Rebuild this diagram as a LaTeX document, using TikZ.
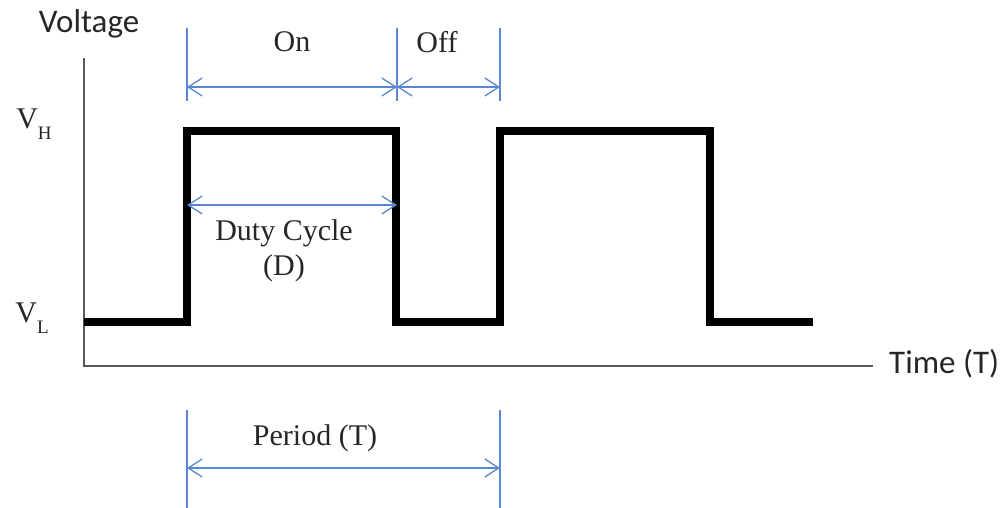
\documentclass[tikz,border=0pt]{standalone}
\usepackage{fontspec}
\setmainfont{Liberation Serif}
\newfontfamily\labelfont{Carlito}
\usetikzlibrary{arrows.meta,positioning,calc}
\definecolor{dimblue}{RGB}{91,134,210}

\begin{document}
\begin{tikzpicture}[
  x=1pt, y=-1pt,
  every node/.style={font=\fontsize{30}{35}\selectfont, inner sep=0pt, text=black!85},
  axislabel/.style={font=\labelfont\fontsize{33}{36}\selectfont},
  signal/.style={line width=8pt, line join=miter},
  axis/.style={line width=2pt, black!65},
  dim/.style={dimblue, line width=1.3pt},
  >={Straight Barb[length=14pt, width=18pt]}
]
  \useasboundingbox (0,0) rectangle (1004,508);

  % axes
  \coordinate (o) at (84,366);
  \coordinate (ytop) at (84,58);
  \coordinate (xend) at (873,366);
  \draw[axis] (ytop) -- (o) -- (xend);
  \node[axislabel] (volt) at (89,24) {Voltage};
  \node[axislabel, anchor=west] (time) at (889,364) {Time (T)};
  \node (vh) at (34,124) {V\raisebox{-0.35em}{\fontsize{19}{20}\selectfont H}};
  \node (vl) at (32,318) {V\raisebox{-0.35em}{\fontsize{19}{20}\selectfont L}};

  % pulse train
  \coordinate (s0) at (84,322);
  \coordinate (s1) at (187,322);
  \coordinate (s2) at (187,131);
  \coordinate (s3) at (396,131);
  \coordinate (s4) at (396,322);
  \coordinate (s5) at (500,322);
  \coordinate (s6) at (500,131);
  \coordinate (s7) at (710,131);
  \coordinate (s8) at (710,322);
  \coordinate (s9) at (813,322);
  \draw[signal] (s0) -- (s1) -- (s2) -- (s3) -- (s4) -- (s5) -- (s6) -- (s7) -- (s8) -- (s9);

  % on / off marks
  \coordinate (m1a) at (187,28);  \coordinate (m1b) at (187,101);
  \coordinate (m2a) at (397,28);  \coordinate (m2b) at (397,101);
  \coordinate (m3a) at (500,28);  \coordinate (m3b) at (500,101);
  \draw[dim] (m1a) -- (m1b);
  \draw[dim] (m2a) -- (m2b);
  \draw[dim] (m3a) -- (m3b);
  \coordinate (on1) at (187,87);
  \coordinate (on2) at (397,87);
  \coordinate (off2) at (500,87);
  \draw[dim, <->] (on1) -- (on2);
  \draw[dim, <->] (on2) -- (off2);
  \node (on) at (292,42) {On};
  \node (off) at (437,42) {Off};

  % duty cycle
  \coordinate (d1) at (187,205);
  \coordinate (d2) at (397,205);
  \draw[dim, <->] (d1) -- (d2);
  \node[align=center] (duty) at (284,251) {Duty Cycle\\(D)};

  % period
  \coordinate (p1a) at (187,410); \coordinate (p1b) at (187,508);
  \coordinate (p2a) at (500,410); \coordinate (p2b) at (500,508);
  \draw[dim] (p1a) -- (p1b);
  \draw[dim] (p2a) -- (p2b);
  \coordinate (pl) at (187,468);
  \coordinate (pr) at (500,468);
  \draw[dim, <->] (pl) -- (pr);
  \node (period) at (315,438) {Period (T)};
\end{tikzpicture}
\end{document}
